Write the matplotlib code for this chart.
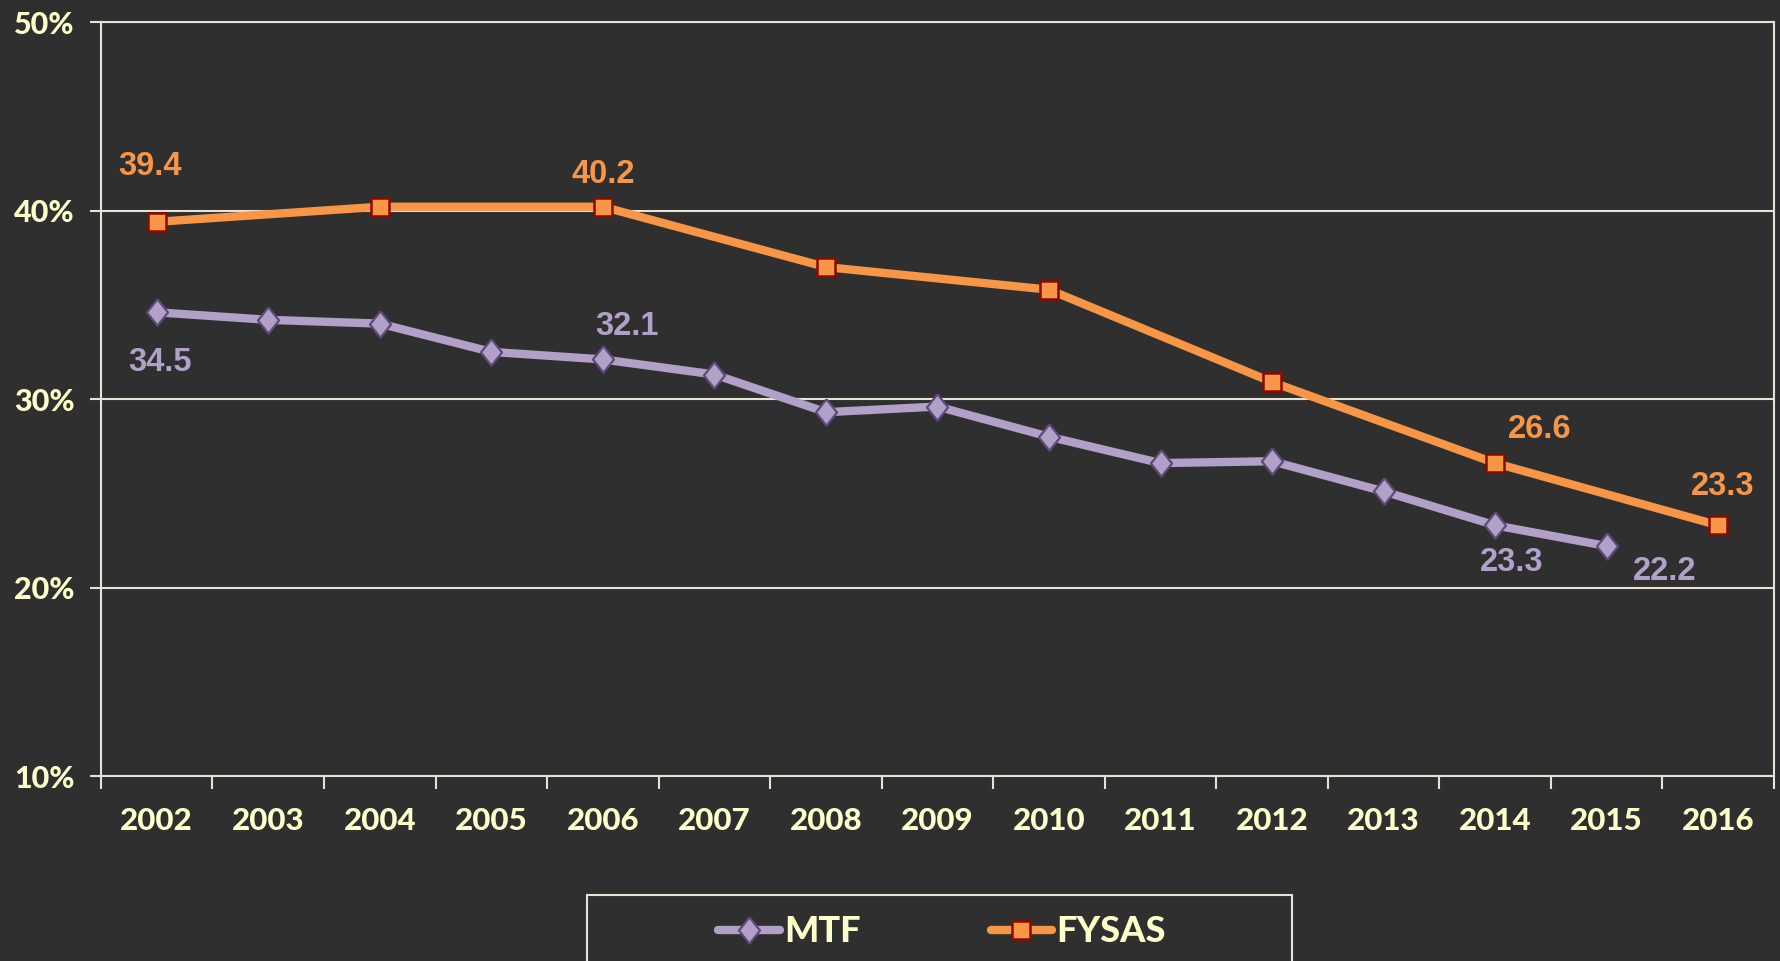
import matplotlib
matplotlib.use("Agg")
import matplotlib.pyplot as plt
import numpy as np
from matplotlib.patches import Rectangle
from matplotlib.lines import Line2D

years = ["2002", "2003", "2004", "2005", "2006", "2007", "2008", "2009",
         "2010", "2011", "2012", "2013", "2014", "2015", "2016"]
mtf = [34.6, 34.2, 34.0, 32.5, 32.1, 31.3, 29.3, 29.6, 28.0, 26.6, 26.7, 25.1, 23.3, 22.2, None]
fysas = [39.4, None, 40.2, None, 40.2, None, 37.0, None, 35.8, None, 30.9, None, 26.6, None, 23.3]
yticks = [10, 20, 30, 40, 50]
ytick_labels = ["10%", "20%", "30%", "40%", "50%"]

# labels: (year index, text, offset in points)
mtf_labels = [(0, "34.5", (2, -36)), (4, "32.1", (17, 24)), (12, "23.3", (12, -27)), (13, "22.2", (42, -18))]
fysas_labels = [(0, "39.4", (-5, 40)), (4, "40.2", (0, 23)), (12, "26.6", (32, 24)), (14, "23.3", (3, 28))]

BG = "#2f2f2f"
CREAM = "#FFFFCC"
GRID = "#E6E2D6"
ORANGE = "#F79646"
ORANGE_EDGE = "#8B0A00"
PURPLE = "#B1A0C7"
PURPLE_EDGE = "#5F497A"

fig = plt.figure(figsize=(17.8, 9.61), dpi=100, facecolor=BG)
ax = fig.add_axes([0.0567, 0.1925, 0.9399, 0.7846], facecolor=BG)

x = np.arange(len(years))
diamond = [(0, 1), (0.8, 0), (0, -1), (-0.8, 0), (0, 1)]

mx = [i for i, v in enumerate(mtf) if v is not None]
my = [v for v in mtf if v is not None]
fx = [i for i, v in enumerate(fysas) if v is not None]
fy = [v for v in fysas if v is not None]

LW = 6
mstyle_m = dict(marker=diamond, markersize=19, markerfacecolor=PURPLE,
                markeredgecolor=PURPLE_EDGE, markeredgewidth=1.6)
mstyle_f = dict(marker="s", markersize=13.5, markerfacecolor=ORANGE,
                markeredgecolor=ORANGE_EDGE, markeredgewidth=1.8)

ax.plot(mx, my, color=PURPLE, lw=LW, zorder=4, solid_capstyle="round", **mstyle_m)
ax.plot(fx, fy, color=ORANGE, lw=LW, zorder=5, solid_capstyle="round", **mstyle_f)

lab_font = dict(family=["Liberation Sans", "DejaVu Sans"], fontweight="bold", fontsize=23.5)
for i, t, off in mtf_labels:
    ax.annotate(t, (i, mtf[i]), xytext=off, textcoords="offset points",
                ha="center", va="center", color=PURPLE, **lab_font)
for i, t, off in fysas_labels:
    ax.annotate(t, (i, fysas[i]), xytext=off, textcoords="offset points",
                ha="center", va="center", color=ORANGE, **lab_font)

ax.set_xlim(-0.5, len(years) - 0.5)
ax.set_ylim(10, 50)

ax.set_xticks(np.arange(-0.5, len(years)), minor=False)
ax.set_xticklabels([])
ax.set_xticks(x, minor=True)
ax.set_xticklabels(years, minor=True)
ax.tick_params(axis="x", which="major", direction="out", length=9, width=1.5, color=GRID)
ax.tick_params(axis="x", which="minor", length=0, pad=22, labelsize=22.5, labelcolor=CREAM)

ax.set_yticks(yticks)
ax.set_yticklabels(ytick_labels)
ax.tick_params(axis="y", direction="out", length=8, width=1.5, color=GRID,
               pad=11, labelsize=22, labelcolor=CREAM)

for lbl in ax.get_xticklabels(minor=True) + ax.get_yticklabels():
    lbl.set_fontfamily(["Lato", "DejaVu Sans"])
    lbl.set_fontweight("black")

ax.grid(axis="y", color=GRID, lw=1.5, zorder=1)
ax.set_axisbelow(True)
for s in ax.spines.values():
    s.set_color(GRID)
    s.set_linewidth(1.5)

# legend box (extends beyond figure bottom)
fig.patches.append(Rectangle((587 / 1780, -0.05), (1292 - 587) / 1780, 0.05 + (961 - 895) / 961,
                             transform=fig.transFigure, fill=False, edgecolor=GRID, lw=1.5))
handles = [
    Line2D([], [], color=PURPLE, lw=LW, solid_capstyle="round", **mstyle_m),
    Line2D([], [], color=ORANGE, lw=LW, solid_capstyle="round", **mstyle_f),
]
leg = fig.legend(handles, ["MTF", "FYSAS"], loc="center", bbox_to_anchor=(942 / 1780, 1 - 932 / 961),
                 ncol=2, frameon=False, handlelength=1.7, handletextpad=0.12, columnspacing=3.6,
                 borderpad=0, prop=dict(family=["Lato", "DejaVu Sans"], weight="black", size=26))
for t in leg.get_texts():
    t.set_color(CREAM)

fig.savefig("out.png", dpi=100, facecolor=BG)
